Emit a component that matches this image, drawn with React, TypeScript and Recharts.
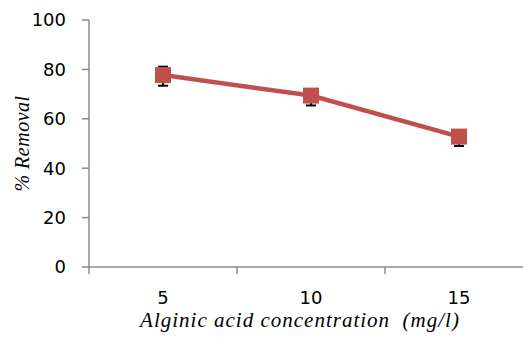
import { LineChart, Line, XAxis, YAxis, ErrorBar, Label } from 'recharts';

// alginic acid dose (mg/l)
const doses = [5, 10, 15];
const removal = [77.7, 69.4, 52.8];
const errLow = [4.3, 4.0, 3.8];
const errHigh = [3.4, 2.6, 2.0];

const yTicks = [0, 20, 40, 60, 80, 100];
const doseTicks = [5, 10, 15];
const bandEdges = [2.5, 7.5, 12.5, 17.5];

const data = doses.map((d, i) => ({
    dose: d,
    removal: removal[i],
    err: [errLow[i], errHigh[i]],
}));

const RED = '#C0504D';
const AXIS = '#8c8c8c';
const tickFont = { fill: '#000', fontSize: 18, fontFamily: '"DejaVu Sans", sans-serif' };
const titleFont = {
    fill: '#000',
    fontSize: 21,
    fontStyle: 'italic',
    letterSpacing: 1,
    fontFamily: '"Liberation Serif", serif',
};

function SquareDot(props: any) {
    const { cx, cy } = props;
    if (cx == null || cy == null) return null;
    return <rect x={cx - 8} y={cy - 8} width={16} height={16} fill={RED} />;
}

// edges of each category band get a tick mark, centres get the label
function DoseTick(props: any) {
    const { x, y, payload } = props;
    if (bandEdges.includes(payload.value)) {
        return <line x1={x} y1={y} x2={x} y2={y + 7} stroke={AXIS} strokeWidth={1.5} />;
    }
    return (
        <text x={x} y={y + 24} dy="0.71em" textAnchor="middle" {...tickFont}>
            {payload.value}
        </text>
    );
}

export default function App() {
    return (
        <div style={{ position: 'fixed', left: 0, top: 0, width: 523, height: 338, overflow: 'hidden', background: '#fff' }}>
            <LineChart width={548} height={338} data={data} margin={{ top: 20, right: 15, bottom: 9, left: 0 }}>
                <XAxis
                    dataKey="dose"
                    type="number"
                    domain={[2.5, 17.5]}
                    ticks={[...bandEdges, ...doseTicks].sort((a, b) => a - b)}
                    interval={0}
                    tick={<DoseTick />}
                    tickLine={false}
                    tickSize={0}
                    tickMargin={0}
                    height={62}
                    axisLine={{ stroke: AXIS, strokeWidth: 1.5 }}
                    allowDataOverflow
                >
                    <Label
                        value={'Alginic acid concentration\u00a0\u00a0(mg/l)'}
                        position="insideBottom"
                        offset={2}
                        dx={-11}
                        style={titleFont}
                    />
                </XAxis>
                <YAxis
                    domain={[0, 100]}
                    ticks={yTicks}
                    width={89}
                    tickSize={7}
                    tickMargin={16}
                    tick={tickFont}
                    axisLine={{ stroke: AXIS, strokeWidth: 1.5 }}
                    tickLine={{ stroke: AXIS, strokeWidth: 1.5 }}
                >
                    <Label
                        value="% Removal"
                        angle={-90}
                        position="insideLeft"
                        offset={22}
                        style={{ ...titleFont, fontSize: 20, letterSpacing: 0.5, textAnchor: 'middle' }}
                    />
                </YAxis>
                <Line
                    dataKey="removal"
                    stroke={RED}
                    strokeWidth={4.5}
                    dot={<SquareDot />}
                    activeDot={false}
                    isAnimationActive={false}
                >
                    <ErrorBar dataKey="err" direction="y" width={5} stroke="#000" strokeWidth={2} isAnimationActive={false} />
                </Line>
            </LineChart>
        </div>
    );
}
